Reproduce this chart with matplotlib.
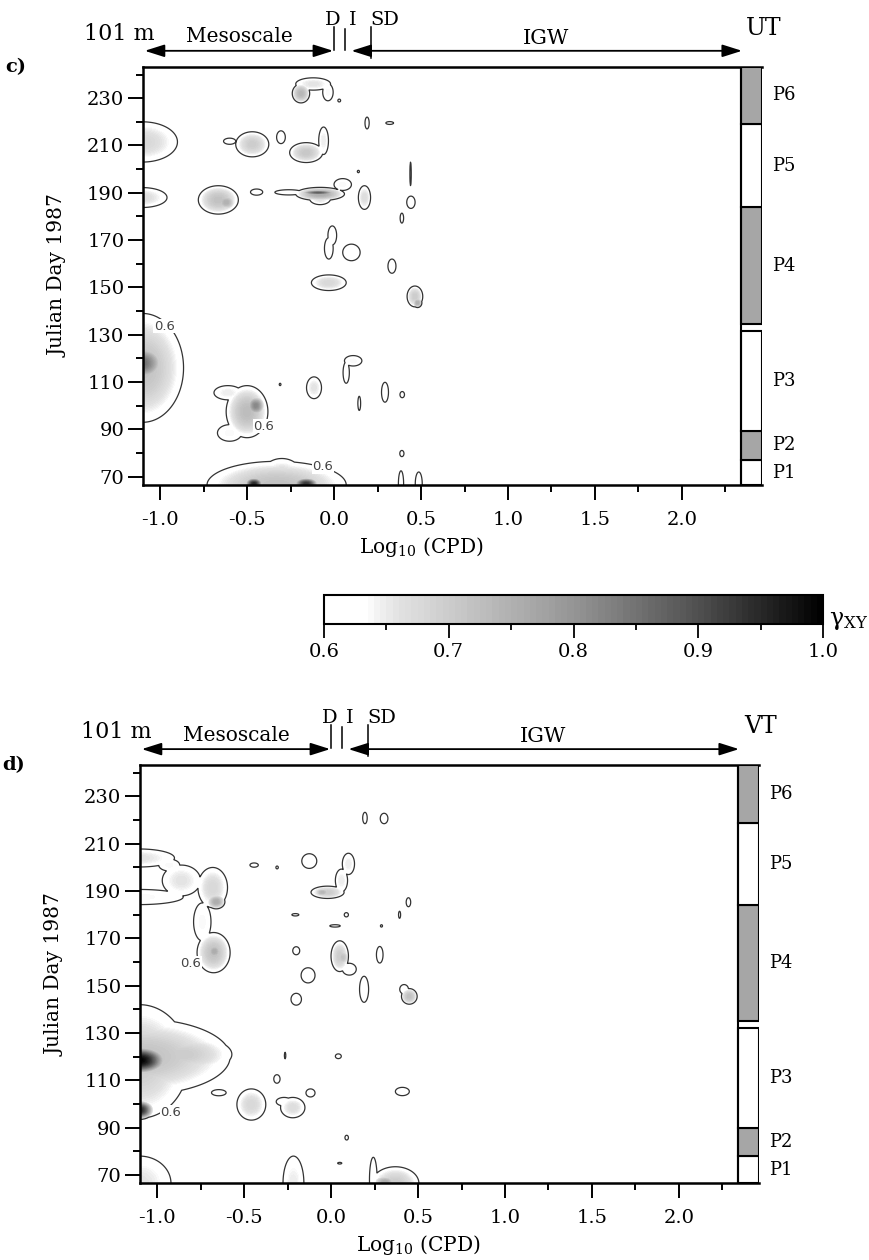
import numpy as np
import matplotlib
matplotlib.use("Agg")
import matplotlib.pyplot as plt
from matplotlib.colors import LinearSegmentedColormap
from matplotlib.patches import Rectangle
from matplotlib.transforms import blended_transform_factory

plt.rcParams["font.family"] = ["DejaVu Serif"]
plt.rcParams["mathtext.fontset"] = "dejavuserif"
plt.rcParams["axes.unicode_minus"] = False

# ---------------------------------------------------------------------------
# Coherence patches (gamma_xy >= 0.6) in the frequency / time plane.
# Each patch: centre (log10 cpd, julian day), half-extent of the 0.6 contour,
# and peak coherence inside the patch.
# ---------------------------------------------------------------------------
# UT (panel c)
ut_cx = [-0.19, -0.12, -0.035, 0.03, -1.10, -0.60, -0.47, -0.305, -0.16, -0.06,
         0.14, 0.19, 0.32, 0.44, -1.10, -0.665, -0.62, -0.445, -0.26, -0.08,
         -0.08, -0.09, 0.05, 0.175, 0.442, 0.39, -0.03, -0.01, 0.10, -0.03,
         0.333, 0.465, 0.48, -1.10, -1.10, -0.50, -0.45, -0.61, -0.60,
         -0.31, -0.115, 0.11, 0.07, 0.145, 0.293, 0.392, 0.39, -0.33, -0.30,
         -0.46, -0.16, 0.385, 0.487]
ut_cy = [232.0, 236.0, 232.5, 229.0, 211.5, 211.8, 210.5, 213.5, 207.0, 212.0,
         199.0, 219.5, 219.5, 198.0, 188.0, 187.0, 186.0, 190.3, 190.2, 189.5,
         187.5, 190.1, 193.5, 188.0, 186.0, 179.3, 166.5, 172.0, 164.8, 152.0,
         159.0, 146.2, 143.5, 116.0, 118.0, 97.5, 100.0, 105.5, 88.5,
         109.0, 107.6, 119.0, 114.0, 101.0, 105.7, 104.7, 79.8, 66.5, 70.0,
         67.0, 67.0, 67.0, 67.0]
ut_hx = [0.050, 0.100, 0.030, 0.008, 0.200, 0.035, 0.095, 0.025, 0.095, 0.028,
         0.006, 0.012, 0.022, 0.004, 0.140, 0.115, 0.050, 0.035, 0.080, 0.140,
         0.060, 0.100, 0.050, 0.035, 0.024, 0.010, 0.025, 0.025, 0.050, 0.100,
         0.023, 0.045, 0.025, 0.235, 0.120, 0.120, 0.050, 0.080, 0.070,
         0.005, 0.043, 0.050, 0.018, 0.008, 0.020, 0.013, 0.012, 0.400, 0.120,
         0.050, 0.070, 0.015, 0.020]
ut_hy = [4.0, 2.6, 3.6, 0.6, 8.5, 1.3, 5.3, 2.7, 4.2, 5.8,
         0.5, 2.5, 0.6, 5.0, 4.2, 6.0, 3.0, 1.3, 1.1, 2.8,
         2.5, 0.6, 2.5, 5.0, 2.6, 2.1, 4.5, 4.0, 3.5, 3.3,
         3.0, 4.4, 2.0, 23.0, 7.0, 11.0, 4.0, 3.0, 3.5,
         0.5, 4.6, 2.2, 4.5, 3.0, 4.2, 1.3, 1.3, 10.0, 7.7,
         2.5, 2.5, 5.5, 5.0]
ut_peak = [0.74, 0.66, 0.64, 0.61, 0.68, 0.63, 0.70, 0.63, 0.71, 0.65,
           0.61, 0.62, 0.62, 0.61, 0.67, 0.72, 0.75, 0.62, 0.63, 0.76,
           0.66, 0.88, 0.64, 0.67, 0.63, 0.61, 0.63, 0.63, 0.63, 0.68,
           0.62, 0.70, 0.75, 0.72, 0.85, 0.73, 0.82, 0.65, 0.64,
           0.605, 0.66, 0.64, 0.62, 0.61, 0.63, 0.61, 0.61, 0.72, 0.68,
           0.95, 0.93, 0.63, 0.63]

# VT (panel d)
vt_cx = [0.195, 0.305, -1.10, -0.93, -1.10, -0.86, -0.68, -0.66, -0.74, -0.675,
         -0.67, -0.442, -0.31, -0.125, -0.02, -0.05, 0.10, 0.06, -0.205, 0.088,
         0.023, 0.29, 0.445, 0.394, -0.20, 0.05, 0.105, 0.068, 0.28, -0.132,
         0.19, 0.45, 0.42, -0.20, -1.10, -1.10, -1.10, -0.85, -1.10, -0.264,
         0.042, -0.311, -0.645, -0.458, -0.22, -0.27, -0.118, 0.41, 0.09, 0.05,
         -1.10, -0.216, 0.37, 0.243, 0.31]
vt_cy = [220.9, 220.7, 204.0, 201.0, 187.5, 194.5, 191.5, 185.5, 177.0, 164.0,
         164.5, 201.0, 200.0, 202.7, 189.5, 189.5, 201.5, 194.5, 180.0, 180.0,
         175.3, 175.3, 185.3, 180.0, 164.8, 162.5, 157.0, 162.0, 163.1, 154.4,
         148.5, 145.5, 148.5, 144.3, 120.0, 118.0, 118.5, 121.0, 97.5, 120.5,
         120.2, 110.6, 104.8, 99.8, 98.5, 101.0, 104.7, 105.3, 85.8, 75.0,
         66.5, 66.5, 66.5, 68.0, 67.0]
vt_hx = [0.013, 0.022, 0.200, 0.060, 0.250, 0.110, 0.085, 0.050, 0.050, 0.095,
         0.040, 0.024, 0.007, 0.043, 0.095, 0.040, 0.035, 0.035, 0.020, 0.012,
         0.030, 0.006, 0.013, 0.006, 0.020, 0.050, 0.040, 0.030, 0.019, 0.040,
         0.026, 0.045, 0.025, 0.030, 0.520, 0.280, 0.160, 0.280, 0.080, 0.004,
         0.017, 0.018, 0.042, 0.083, 0.070, 0.045, 0.026, 0.040, 0.010, 0.012,
         0.180, 0.060, 0.135, 0.022, 0.060]
vt_hy = [2.4, 2.2, 3.8, 2.5, 3.2, 6.5, 8.5, 3.0, 8.0, 8.5,
         3.0, 0.9, 0.6, 3.1, 2.6, 1.5, 4.5, 4.8, 0.5, 0.9,
         0.5, 0.5, 1.9, 1.5, 1.7, 6.5, 2.5, 3.0, 3.5, 3.2,
         5.5, 3.3, 2.0, 2.5, 16.0, 24.0, 6.0, 8.0, 4.0, 1.4,
         1.0, 1.8, 1.3, 6.6, 4.3, 1.8, 1.7, 1.75, 1.0, 0.35,
         11.5, 11.5, 7.0, 9.5, 2.5]
vt_peak = [0.62, 0.62, 0.66, 0.64, 0.64, 0.66, 0.68, 0.76, 0.64, 0.72,
           0.76, 0.61, 0.61, 0.63, 0.70, 0.74, 0.65, 0.65, 0.62, 0.61,
           0.62, 0.61, 0.61, 0.61, 0.61, 0.70, 0.63, 0.72, 0.62, 0.63,
           0.63, 0.72, 0.63, 0.62, 0.72, 0.70, 1.00, 0.70, 0.95, 0.61,
           0.61, 0.62, 0.62, 0.68, 0.67, 0.63, 0.62, 0.62, 0.61, 0.61,
           0.66, 0.65, 0.70, 0.63, 0.76]

# Contour labels of the 0.6 level
ut_label_x = [-0.975, -0.405, -0.065]
ut_label_y = [133.7, 91.3, 74.2]
vt_label_x = [-0.805, -0.92]
vt_label_y = [159.6, 96.6]

# Record periods P1..P6 (julian day limits) and which ones are shaded
period_names = ["P1", "P2", "P3", "P4", "P5", "P6"]
period_shaded = [False, True, False, True, False, True]
ut_period_lo = [66.5, 77.0, 89.5, 134.5, 184.0, 219.0]
ut_period_hi = [77.0, 89.5, 131.5, 184.0, 219.0, 243.3]
vt_period_lo = [66.5, 78.0, 90.0, 135.0, 184.0, 219.0]
vt_period_hi = [78.0, 90.0, 132.0, 184.0, 219.0, 243.3]

# Band markers (log10 cpd): diurnal, inertial, semidiurnal
band_names = ["D", "I", "SD"]
band_x = [0.0, 0.065, 0.21]

# Axes layout
XMIN, XMAX, XBAR = -1.098, 2.46, 2.34
YMIN, YMAX = 66.5, 243.3
LEVEL = 0.6

cmap = LinearSegmentedColormap.from_list(
    "coh",
    [(0.0, "#ffffff"), (0.08, "#ffffff"), (0.14, "#e4e4e4"), (0.25, "#cccccc"),
     (0.5, "#959595"), (0.75, "#505050"), (0.92, "#1a1a1a"), (1.0, "#000000")])


def coherence_field(cx, cy, hx, hy, peak, X, Y):
    Z = np.zeros_like(X)
    for x0, y0, ax_, ay_, p in zip(cx, cy, hx, hy, peak):
        r2 = ((X - x0) / ax_) ** 2 + ((Y - y0) / ay_) ** 2
        Z = np.maximum(Z, p * (LEVEL / p) ** np.minimum(r2, 60.0))
    return np.minimum(Z, 0.999)


gx = np.arange(XMIN, 0.75, 0.0025)
gy = np.arange(YMIN, YMAX + 0.1, 0.12)
GX, GY = np.meshgrid(gx, gy)

fig = plt.figure(figsize=(8.7, 12.6), dpi=100)

panels = [
    dict(rect=[0.16437, 0.61508, 0.71149, 0.33198], tag="c)", comp="UT",
         blobs=(ut_cx, ut_cy, ut_hx, ut_hy, ut_peak),
         labels=(ut_label_x, ut_label_y), plo=ut_period_lo, phi=ut_period_hi),
    dict(rect=[0.16092, 0.06087, 0.71149, 0.33198], tag="d)", comp="VT",
         blobs=(vt_cx, vt_cy, vt_hx, vt_hy, vt_peak),
         labels=(vt_label_x, vt_label_y), plo=vt_period_lo, phi=vt_period_hi),
]

levels = np.linspace(0.6, 1.0, 81)
cf_ref = None
for pnl in panels:
    ax = fig.add_axes(pnl["rect"])
    Z = coherence_field(*pnl["blobs"], GX, GY)
    cf = ax.contourf(GX, GY, Z, levels=levels, cmap=cmap, vmin=0.6, vmax=1.0)
    cf_ref = cf
    ax.contour(GX, GY, Z, levels=[LEVEL], colors="#333333", linewidths=0.9)

    for lx, ly in zip(*pnl["labels"]):
        ax.text(lx, ly, "0.6", family="DejaVu Sans", fontsize=9.5, color="#444444",
                ha="center", va="center", zorder=5,
                bbox=dict(facecolor="white", edgecolor="none", pad=0.4))

    ax.set_xlim(XMIN, XMAX)
    ax.set_ylim(YMIN, YMAX)
    for side in ("top", "left", "bottom"):
        ax.spines[side].set_linewidth(1.8)
    ax.spines["right"].set_visible(False)
    ax.axvline(XBAR, color="black", lw=1.5, zorder=4)

    ax.set_xticks(np.arange(-1.0, 2.01, 0.5))
    ax.set_xticklabels(["%.1f" % v for v in np.arange(-1.0, 2.01, 0.5)])
    ax.set_xticks(np.arange(-0.75, 2.26, 0.5), minor=True)
    ax.set_yticks(np.arange(70, 231, 20))
    ax.set_yticks(np.arange(80, 241, 20), minor=True)
    ax.tick_params(which="major", direction="out", length=10.5, width=1.4,
                   labelsize=14)
    ax.tick_params(which="minor", direction="out", length=5, width=1.4)
    ax.tick_params(axis="x", which="major", pad=8)
    ax.tick_params(axis="y", which="major", pad=3)

    ax.set_ylabel("Julian Day 1987", fontsize=14.5)
    ax.yaxis.set_label_coords(-0.121, 0.5)

    trans = blended_transform_factory(ax.transData, ax.transAxes)
    ax.text(0.5, -0.163, "Log$_{10}$ (CPD)", transform=trans, ha="center",
            va="baseline", fontsize=14.5)

    # Record periods bar
    for name, lo, hi, sh in zip(period_names, pnl["plo"], pnl["phi"], period_shaded):
        ax.add_patch(Rectangle((XBAR, lo), XMAX - XBAR, hi - lo,
                               facecolor="#a6a6a6" if sh else "white",
                               edgecolor="black", lw=1.5, zorder=3))
        ax.text(2.52, (lo + hi) / 2, name, fontsize=13, ha="left", va="center",
                clip_on=False)

    # Frequency band annotations above the frame
    arrow_y = 1.038
    ax.annotate("", xy=(-1.088, arrow_y), xytext=(-0.005, arrow_y),
                xycoords=trans, textcoords=trans, annotation_clip=False,
                arrowprops=dict(arrowstyle="<|-|>,head_length=1.2,head_width=0.38",
                                color="black", lw=1.3, shrinkA=0, shrinkB=0))
    ax.annotate("", xy=(0.1, arrow_y), xytext=(2.345, arrow_y),
                xycoords=trans, textcoords=trans, annotation_clip=False,
                arrowprops=dict(arrowstyle="<|-|>,head_length=1.2,head_width=0.38",
                                color="black", lw=1.3, shrinkA=0, shrinkB=0))
    ax.plot([band_x[0]] * 2, [1.04, 1.096], transform=trans, color="black",
            lw=1.1, clip_on=False)
    ax.plot([band_x[1]] * 2, [1.04, 1.09], transform=trans, color="black",
            lw=1.1, clip_on=False)
    ax.plot([band_x[2]] * 2, [1.022, 1.096], transform=trans, color="black",
            lw=1.1, clip_on=False)
    ax.text(band_x[0] - 0.01, 1.1, band_names[0], transform=trans, ha="center",
            va="baseline", fontsize=14)
    ax.text(band_x[1] + 0.045, 1.1, band_names[1], transform=trans, ha="center",
            va="baseline", fontsize=14)
    ax.text(band_x[2] + 0.08, 1.1, band_names[2], transform=trans, ha="center",
            va="baseline", fontsize=14)
    ax.text(-1.233, 1.064, "101 m", transform=trans, ha="center", va="baseline",
            fontsize=16)
    ax.text(-0.546, 1.058, "Mesoscale", transform=trans, ha="center",
            va="baseline", fontsize=14.5)
    ax.text(1.218, 1.054, "IGW", transform=trans, ha="center", va="baseline",
            fontsize=15)
    ax.text(2.47, 1.076, pnl["comp"], transform=trans, ha="center",
            va="baseline", fontsize=17)
    ax.text(-0.222, 1.0, pnl["tag"], transform=ax.transAxes, ha="left",
            va="center", fontsize=14, fontweight="bold")

# Colour scale
cax = fig.add_axes([0.3724, 0.5048, 0.5736, 0.023])
cb = fig.colorbar(cf_ref, cax=cax, orientation="horizontal")
cb.set_ticks([0.6, 0.7, 0.8, 0.9, 1.0])
cb.set_ticklabels(["0.6", "0.7", "0.8", "0.9", "1.0"])
cax.set_xticks(np.arange(0.65, 1.0, 0.1), minor=True)
cax.tick_params(which="major", direction="out", length=10, width=1.3,
                labelsize=14, pad=4)
cax.tick_params(which="minor", direction="out", length=4.5, width=1.3)
cb.outline.set_linewidth(1.5)
fig.text(0.953, 0.504, "γ$_{\\mathrm{XY}}$", fontsize=17, ha="left",
         va="baseline")

fig.savefig("out.png", dpi=100)
